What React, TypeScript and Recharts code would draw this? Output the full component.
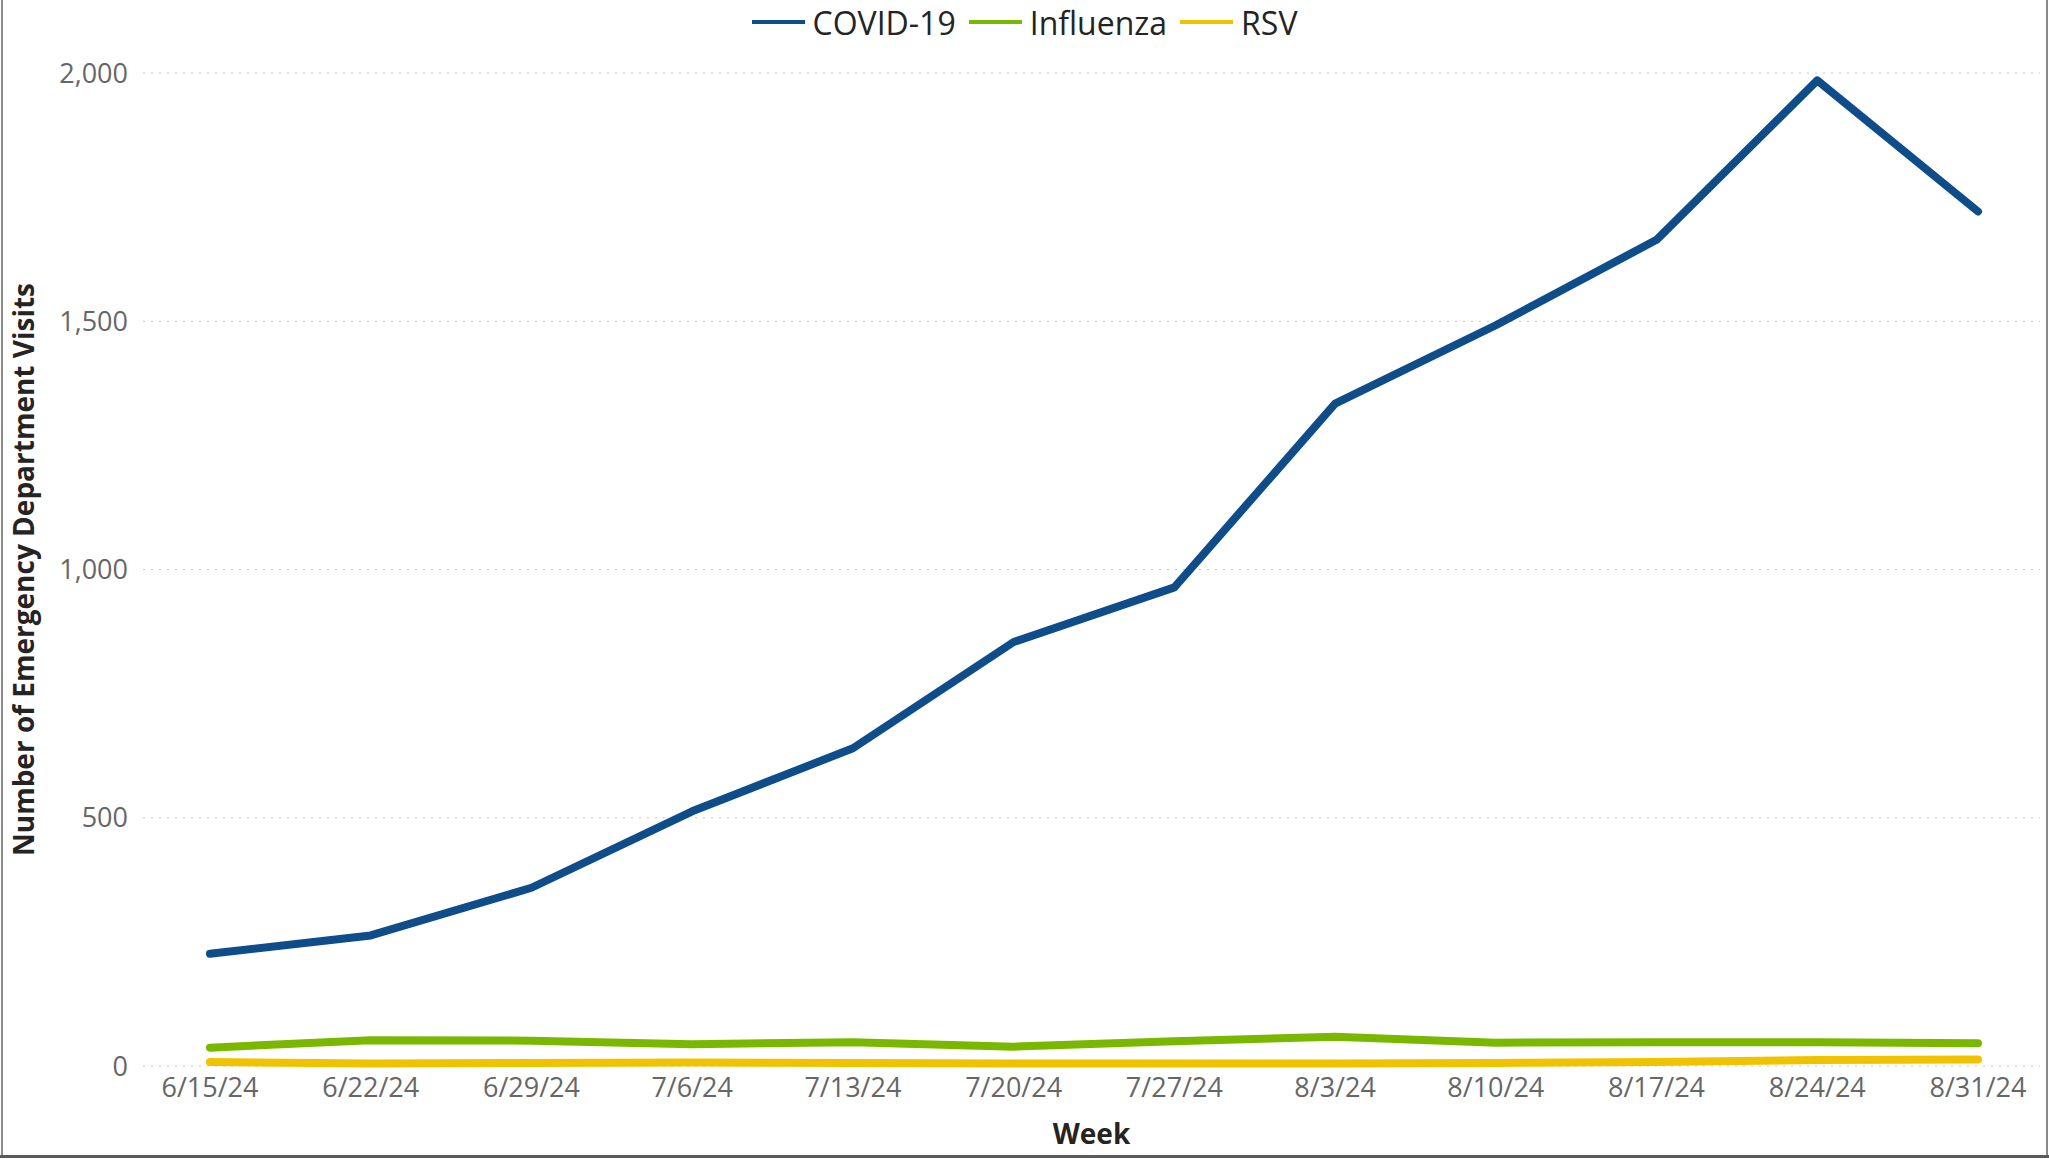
import React from 'react';
import { LineChart, Line, XAxis, YAxis, CartesianGrid, Legend } from 'recharts';

const weeks = ['6/15/24', '6/22/24', '6/29/24', '7/6/24', '7/13/24', '7/20/24', '7/27/24', '8/3/24', '8/10/24', '8/17/24', '8/24/24', '8/31/24'];
const covid = [226, 263, 359, 513, 640, 854, 964, 1334, 1492, 1664, 1985, 1721];
const influenza = [37, 52, 51, 44, 48, 39, 50, 59, 47, 48, 48, 46];
const rsv = [8, 5, 6, 7, 6, 5, 5, 5, 6, 8, 12, 13];
const yTicks = [0, 500, 1000, 1500, 2000];

const seriesNames = ['COVID-19', 'Influenza', 'RSV'];
const seriesColors = ['#0F4C8A', '#7AB800', '#F0C300'];

const data = weeks.map((w, i) => ({ week: w, covid: covid[i], influenza: influenza[i], rsv: rsv[i] }));

const FONT = '"Open Sans", "Noto Sans", sans-serif';
const W = 2049;
const H = 1159;

const LegendContent = () => (
  <div
    style={{
      display: 'flex',
      justifyContent: 'center',
      alignItems: 'center',
      height: 40,
      fontFamily: FONT,
      fontSize: 32,
      color: '#252423',
    }}
  >
    {seriesNames.map((name, i) => (
      <div key={name} style={{ display: 'flex', alignItems: 'center', marginRight: i < seriesNames.length - 1 ? 13 : 0 }}>
        <svg width={53} height={10} style={{ marginRight: 8 }}>
          <line x1={0} y1={5} x2={53} y2={5} stroke={seriesColors[i]} strokeWidth={4} />
        </svg>
        <span>{name}</span>
      </div>
    ))}
  </div>
);

export default function App() {
  return (
    <div style={{ position: 'absolute', left: 0, top: 0, width: W, height: H, background: '#fff', overflow: 'hidden' }}>
      <LineChart width={W} height={H} data={data} margin={{ top: 33, right: 9, bottom: 0, left: 0 }}>
        <CartesianGrid horizontal vertical={false} stroke="#c8c8c8" strokeDasharray="2 6" />
        <XAxis
          dataKey="week"
          axisLine={false}
          tickLine={false}
          height={93}
          padding={{ left: 67, right: 62 }}
          tick={{ fill: '#666', fontSize: 27, fontFamily: FONT }}
          tickMargin={6}
          interval={0}
          label={{ value: 'Week', position: 'insideBottom', offset: 15, fill: '#252423', fontSize: 28, fontWeight: 700, fontFamily: FONT }}
        />
        <YAxis
          domain={[0, 2000]}
          ticks={yTicks}
          axisLine={false}
          tickLine={false}
          width={143}
          tickMargin={9}
          tickFormatter={(v: number) => v.toLocaleString('en-US')}
          tick={{ fill: '#666', fontSize: 27, fontFamily: FONT }}
          label={{
            value: 'Number of Emergency Department Visits',
            angle: -90,
            position: 'insideLeft',
            offset: 24,
            fill: '#252423',
            fontSize: 28,
            fontWeight: 700,
            fontFamily: FONT,
            style: { textAnchor: 'middle' },
          }}
        />
        <Legend verticalAlign="top" content={<LegendContent />} wrapperStyle={{ top: 2, left: 0, width: W }} />
        <Line type="linear" dataKey="rsv" name="RSV" stroke={seriesColors[2]} strokeWidth={8} dot={false} isAnimationActive={false} strokeLinecap="round" strokeLinejoin="round" />
        <Line type="linear" dataKey="influenza" name="Influenza" stroke={seriesColors[1]} strokeWidth={8} dot={false} isAnimationActive={false} strokeLinecap="round" strokeLinejoin="round" />
        <Line type="linear" dataKey="covid" name="COVID-19" stroke={seriesColors[0]} strokeWidth={8} dot={false} isAnimationActive={false} strokeLinecap="round" strokeLinejoin="round" />
      </LineChart>
      <div style={{ position: 'absolute', left: 1, top: 0, width: 2, height: 1157, background: '#8a8a8a' }} />
      <div style={{ position: 'absolute', left: 2046, top: 0, width: 2, height: 1157, background: '#8a8a8a' }} />
      <div style={{ position: 'absolute', left: 0, top: 1155, width: W, height: 3, background: '#5a5a5a' }} />
    </div>
  );
}
